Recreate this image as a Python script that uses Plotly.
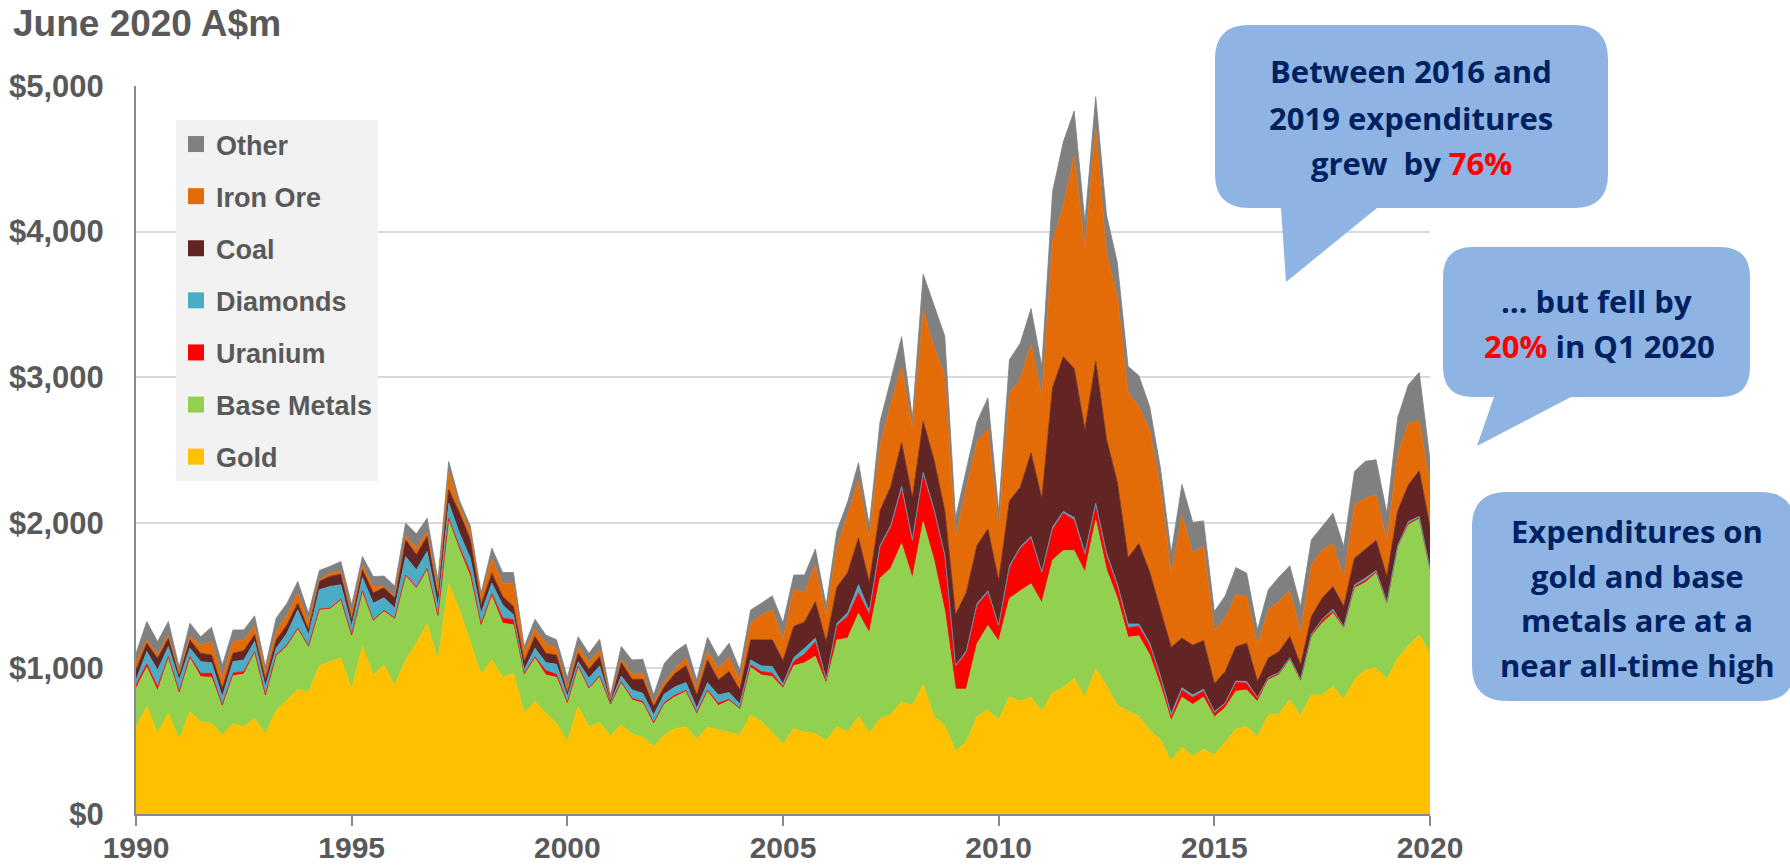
import plotly.graph_objects as go

# ---------------- data (A$m, quarterly, 1990 Q1 .. 2020 Q1) ----------------
START_YEAR = 1990

GOLD = [
    600, 738, 554, 692, 513, 703, 634, 623, 543, 619, 600, 658, 550, 710, 783, 857, 836, 1017, 1047, 1070, 857,
    1150, 955, 1022, 880, 1058, 1173, 1306, 1058, 1581, 1402, 1173, 960, 1058, 939, 967, 696, 772, 692, 623, 497, 738, 600,
    628, 536, 612, 550, 527, 463, 543, 586, 600, 513, 596, 577, 559, 543, 680, 635, 559, 481, 586, 564, 553,
    503, 600, 565, 670, 558, 653, 683, 770, 745, 888, 670, 608, 433, 495, 670, 715,
    647, 805, 776, 802, 705, 834, 867, 932, 802, 997, 883, 747, 705, 672, 575, 510, 364, 461, 396, 445,
    405, 493, 582, 600, 532, 680, 687, 784, 674, 818, 818, 875, 788, 921, 990, 1001, 926, 1070, 1155, 1230, 1104,
]
BASE_METALS = [
    263, 270, 293, 378, 316, 367, 309, 316, 195, 330, 362, 447, 257, 376, 367, 412, 309, 385, 362, 396, 362,
    378, 371, 369, 460, 578, 376, 371, 298, 440, 412, 458, 332, 436, 372, 332, 259, 298, 263, 316, 264, 272, 260,
    311, 213, 286, 234, 234, 156, 213, 220, 241, 174, 245, 168, 220, 176, 328, 320, 385, 382, 432, 475, 530,
    392, 595, 643, 708, 687, 967, 1005, 1088, 875, 1120, 1075, 787, 425, 363, 500, 580,
    540, 675, 757, 779, 746, 910, 942, 877, 860, 1023, 796, 737, 509, 552, 519, 373, 276, 341, 357, 357,
    262, 237, 261, 252, 240, 241, 269, 275, 236, 401, 493, 504, 488, 630, 600, 653, 522, 767, 831, 797, 573,
]
URANIUM = [
    23, 23, 27, 11, 11, 11, 23, 27, 11, 18, 16, 9, 11, 7, 11, 7, 9, 5, 5, 9, 11,
    5, 5, 8, 5, 5, 10, 10, 8, 10, 20, 30, 10, 20, 35, 35, 10, 10, 30, 20, 5, 7, 6,
    9, 7, 11, 11, 11, 9, 9, 11, 7, 9, 11, 16, 9, 7, 16, 23, 23, 10, 30, 60, 100,
    25, 100, 150, 142, 125, 213, 282, 375, 250, 325, 338, 380, 155, 250, 263, 228,
    100, 212, 290, 315, 200, 211, 259, 211, 114, 97, 97, 81, 65, 65, 65, 49, 22, 49, 49, 42,
    25, 27, 62, 46, 23, 12, 11, 11, 11, 11, 22, 14, 8, 12, 15, 9, 4, 3, 11, 8, 5,
]
DIAMONDS = [
    34, 85, 115, 69, 80, 57, 80, 73, 57, 80, 80, 71, 57, 46, 80, 126, 76, 133, 149, 99, 57,
    91, 117, 86, 69, 127, 118, 116, 61, 104, 95, 96, 77, 71, 90, 34, 25, 59, 55, 69, 40, 28, 68,
    69, 9, 39, 57, 57, 53, 60, 57, 55, 30, 50, 57, 46, 30, 34, 39, 46, 20, 25, 40, 25,
    5, 13, 25, 55, 25, 12, 13, 17, 13, 12, 12, 8, 7, 12, 12, 10,
    10, 13, 10, 10, 11, 16, 10, 16, 16, 16, 16, 16, 26, 16, 16, 16, 26, 16, 16, 13,
    10, 5, 8, 12, 5, 5, 4, 4, 4, 4, 5, 14, 4, 11, 15, 9, 4, 3, 12, 9, 5,
]
COAL = [
    69, 57, 80, 57, 34, 57, 57, 53, 57, 57, 64, 46, 46, 57, 57, 46, 34, 57, 69, 73, 46,
    53, 69, 69, 69, 115, 103, 103, 69, 92, 138, 126, 57, 69, 58, 57, 57, 80, 64, 62, 24, 60, 60,
    64, 7, 92, 73, 96, 57, 50, 92, 115, 92, 156, 103, 144, 96, 137, 179, 183, 160, 215, 180, 250,
    258, 250, 275, 320, 195, 238, 267, 300, 287, 350, 338, 300, 350, 400, 400, 425,
    305, 445, 410, 574, 504, 958, 1062, 1023, 845, 975, 780, 698, 455, 552, 487, 455, 455, 341, 341, 335,
    195, 215, 235, 263, 110, 132, 145, 145, 99, 122, 144, 155, 137, 183, 195, 207, 175, 236, 252, 313, 285,
]
IRON_ORE = [
    57, 23, 23, 23, 11, 23, 57, 92, 69, 80, 73, 57, 46, 57, 69, 69, 57, 11, 23, 18, 46,
    34, 45, 11, 15, 28, 46, 34, 40, 126, 45, 57, 58, 103, 91, 160, 69, 50, 69, 46, 27, 44, 50,
    46, 11, 23, 37, 41, 23, 34, 34, 53, 46, 57, 80, 99, 69, 119, 172, 206, 150, 255, 205, 250,
    187, 275, 400, 395, 305, 450, 570, 525, 475, 763, 775, 925, 525, 725, 713, 687,
    380, 740, 745, 747, 698, 1006, 1039, 1461, 1250, 1607, 1282, 1283, 1136, 942, 975, 844, 503, 844, 633, 649,
    365, 370, 360, 321, 251, 332, 344, 316, 229, 355, 333, 294, 202, 367, 355, 313, 252, 389, 424, 344, 293,
]
OTHER = [
    57, 126, 92, 92, 46, 92, 57, 99, 92, 80, 69, 73, 46, 92, 80, 80, 57, 64, 46, 69, 57,
    57, 69, 69, 68, 87, 98, 92, 74, 68, 40, 39, 23, 69, 74, 74, 34, 69, 57, 61, 80, 68, 60,
    73, 34, 87, 96, 96, 57, 126, 115, 96, 57, 99, 76, 96, 69, 87, 80, 96, 110, 98, 118, 112,
    63, 112, 87, 123, 88, 162, 163, 203, 75, 250, 287, 275, 138, 125, 137, 213,
    100, 230, 245, 244, 211, 341, 438, 308, 178, 211, 260, 227, 179, 211, 162, 130, 146, 211, 211, 172,
    128, 150, 185, 160, 104, 138, 167, 170, 172, 172, 160, 210, 210, 229, 252, 241, 183, 252, 264, 332, 168,
]

SERIES_NAMES = ["Gold", "Base Metals", "Uranium", "Diamonds", "Coal", "Iron Ore", "Other"]
X_TICKS = [1990, 1995, 2000, 2005, 2010, 2015, 2020]
Y_TICKS = [0, 1000, 2000, 3000, 4000, 5000]
Y_TICK_LABELS = ["$0", "$1,000", "$2,000", "$3,000", "$4,000", "$5,000"]

SERIES = [GOLD, BASE_METALS, URANIUM, DIAMONDS, COAL, IRON_ORE, OTHER]
for s in SERIES:
    assert len(s) == len(GOLD), len(s)

COLORS = ["#FFC000", "#92D050", "#FF0000", "#4BACC6", "#632523", "#E36C09", "#808080"]

X = [START_YEAR + i / 4 for i in range(len(GOLD))]

# ---------------- geometry helpers (pixel -> paper) ----------------
W, H = 1790, 865
PL, PR, PT, PB = 136, 1430, 86, 814


def px(x):
    return (x - PL) / (PR - PL)


def py(y):
    return (PB - y) / (PB - PT)


def bubble_path(L, T, R, B, r, tail):
    x1, tx, ty, x2 = tail
    pts = [
        ("M", [(L + r, T)]),
        ("L", [(R - r, T)]),
        ("Q", [(R, T), (R, T + r)]),
        ("L", [(R, B - r)]),
        ("Q", [(R, B), (R - r, B)]),
        ("L", [(x2, B)]),
        ("L", [(tx, ty)]),
        ("L", [(x1, B)]),
        ("L", [(L + r, B)]),
        ("Q", [(L, B), (L, B - r)]),
        ("L", [(L, T + r)]),
        ("Q", [(L, T), (L + r, T)]),
    ]
    s = ""
    for cmd, plist in pts:
        s += cmd + " ".join(f"{px(a):.5f},{py(b):.5f}" for a, b in plist) + " "
    return s + "Z"


fig = go.Figure()

for name, vals, col in zip(SERIES_NAMES, SERIES, COLORS):
    fig.add_trace(go.Scatter(
        x=X, y=vals, name=name, stackgroup="one", mode="lines",
        line=dict(width=0.8, color=col), fillcolor=col, showlegend=False,
        hovertemplate=name + ": %{y}<extra></extra>",
    ))

# legend entries (top to bottom: Other ... Gold)
for name, col in reversed(list(zip(SERIES_NAMES, COLORS))):
    fig.add_trace(go.Scatter(
        x=[None], y=[None], mode="markers", name=name, legendgroup=name,
        marker=dict(symbol="square", size=16, color=col), showlegend=True,
    ))

GREY = "#595959"
AXIS = "#898989"
NAVY = "#002060"

fig.update_layout(
    width=W, height=H,
    margin=dict(l=PL, r=W - PR, t=PT, b=H - PB, pad=0, autoexpand=False),
    paper_bgcolor="white", plot_bgcolor="white",
    showlegend=True,
    legend=dict(
        x=px(176), y=py(120), xanchor="left", yanchor="top",
        bgcolor="#F2F2F2", borderwidth=0, traceorder="grouped",
        tracegroupgap=14,
        font=dict(family="Liberation Sans, Arial", size=27, color=GREY, weight="bold"),
    ),
    xaxis=dict(
        range=[X_TICKS[0], X_TICKS[-1]], tickvals=X_TICKS, automargin=False,
        showgrid=False, zeroline=False, showline=True, linecolor=AXIS, linewidth=2,
        ticks="outside", ticklen=10, tickwidth=2, tickcolor=AXIS,
        ticklabelstandoff=-4,
        tickfont=dict(family="Liberation Sans, Arial", size=30, color=GREY, weight="bold"),
    ),
    yaxis=dict(
        range=[0, 5000], tickvals=Y_TICKS, ticktext=Y_TICK_LABELS, automargin=False,
        showgrid=True, gridcolor="#D9D9D9", gridwidth=1.5, zeroline=False,
        showline=True, linecolor=AXIS, linewidth=2, ticks="",
        ticklabelstandoff=24,
        tickfont=dict(family="Liberation Sans, Arial", size=31, color=GREY, weight="bold"),
    ),
)

# title
fig.add_annotation(
    text="June 2020 A$m", xref="paper", yref="paper", x=px(11), y=py(23),
    xanchor="left", yanchor="middle", showarrow=False,
    font=dict(family="Liberation Sans, Arial", size=37, color=GREY, weight="bold"),
)

# callout bubbles
BUBBLE = "#8EB4E3"
bubbles = [
    (1215, 25, 1608, 208, 34, (1281, 1286, 282, 1377)),
    (1443, 247, 1750, 397, 30, (1494, 1477, 446, 1571)),
    (1472, 492, 1795, 701, 35, (1600, 1600, 701, 1600)),
]
for L, T, R, B, r, tail in bubbles:
    fig.add_shape(type="path", path=bubble_path(L, T, R, B, r, tail),
                  xref="paper", yref="paper", fillcolor=BUBBLE, line=dict(width=0),
                  layer="above")

RED = "#FF0000"
callout_lines = [
    ("Between 2016 and", 1411, 71),
    ("2019 expenditures", 1411, 118),
    ("grew\u00a0 by <span style='color:%s'>76%%</span>" % RED, 1411, 163),
    ("\u2026 but fell by", 1596, 301),
    ("<span style='color:%s'>20%%</span> in Q1 2020" % RED, 1599, 346),
    ("Expenditures on", 1637, 531),
    ("gold and base", 1637, 576),
    ("metals are at a", 1637, 620),
    ("near all-time high", 1637, 665),
]
for txt, cx, cy in callout_lines:
    fig.add_annotation(
        text=txt, xref="paper", yref="paper", x=px(cx), y=py(cy),
        xanchor="center", yanchor="middle", showarrow=False,
        font=dict(family="Open Sans, Liberation Sans", size=31, color=NAVY, weight="bold"),
    )

fig.write_html(
    "out.html",
    config={"displayModeBar": False},
    post_script="document.body.style.margin='0';document.body.style.overflow='hidden';",
)
